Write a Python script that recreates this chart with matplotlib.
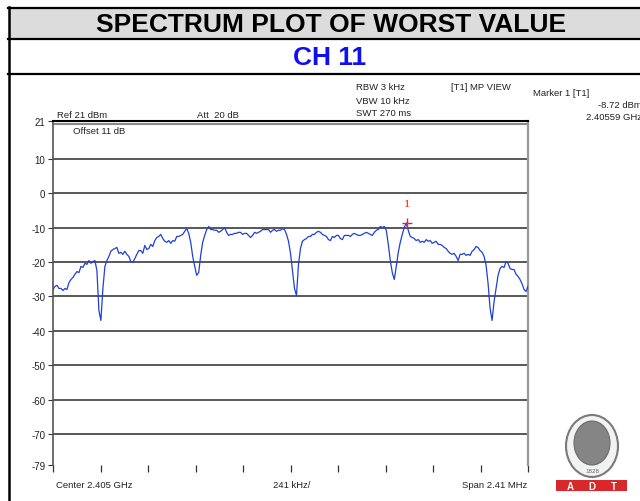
import numpy as np
import matplotlib
matplotlib.use("Agg")
import matplotlib.pyplot as plt
from matplotlib.patches import Rectangle, Ellipse
from matplotlib.lines import Line2D

plt.rcParams['font.family'] = ['Liberation Sans', 'DejaVu Sans']

# ---------------- data ----------------
title = "SPECTRUM PLOT OF WORST VALUE"
subtitle = "CH 11"
span_khz = 2410.0
ref_level = 21
bottom_level = -79
grid_levels = [10, 0, -10, -20, -30, -40, -50, -60, -70]
ytick_values = [21, 10, 0, -10, -20, -30, -40, -50, -60, -70, -79]
n_divisions = 10

levels_db = [
    -28.0, -27.1, -26.8, -27.7, -27.7, -28.3, -27.7, -28.0, -26.0, -25.1,
    -24.5, -23.6, -22.8, -23.1, -21.3, -21.6, -20.4, -20.7, -19.6, -20.4,
    -19.9, -19.6, -22.5, -34.1, -37.0, -27.7, -21.3, -19.6, -18.4, -16.9,
    -16.4, -16.1, -15.8, -17.5, -17.2, -17.8, -16.9, -17.8, -18.4, -19.9,
    -20.1, -19.0, -17.8, -16.7, -16.7, -17.5, -15.2, -16.4, -16.1, -14.9,
    -15.5, -13.8, -12.9, -12.6, -12.0, -13.2, -14.0, -14.3, -13.8, -14.6,
    -13.8, -14.0, -12.6, -12.6, -12.3, -12.0, -11.1, -10.3, -11.7, -14.3,
    -18.4, -21.3, -23.9, -23.1, -18.1, -14.3, -12.3, -10.6, -9.7, -10.6,
    -10.6, -10.8, -10.8, -11.4, -11.1, -10.6, -10.0, -11.4, -12.3, -12.0,
    -12.0, -11.7, -11.7, -11.4, -11.4, -12.0, -11.7, -11.7, -12.3, -12.9,
    -12.3, -11.4, -11.7, -11.4, -11.1, -10.6, -10.6, -10.6, -10.6, -11.4,
    -10.8, -10.6, -11.1, -10.8, -10.8, -10.3, -10.6, -12.0, -14.0, -17.5,
    -22.5, -27.7, -29.8, -20.7, -16.1, -14.0, -13.5, -13.2, -12.6, -12.6,
    -12.0, -12.0, -11.4, -11.1, -11.4, -12.0, -12.3, -12.6, -13.5, -13.8,
    -12.6, -12.9, -12.3, -12.3, -13.2, -13.5, -12.3, -12.3, -12.3, -12.6,
    -12.0, -11.7, -12.0, -12.3, -12.3, -12.0, -11.7, -11.4, -11.7, -12.0,
    -12.3, -11.4, -10.8, -10.6, -9.7, -10.0, -9.7, -10.8, -14.9, -19.6,
    -23.1, -25.1, -21.3, -17.2, -14.3, -12.0, -10.0, -8.72, -10.8, -12.6,
    -12.9, -13.2, -13.8, -13.5, -14.3, -14.0, -14.3, -13.5, -14.0, -13.8,
    -14.6, -14.3, -14.0, -14.9, -14.9, -15.2, -15.8, -16.1, -16.9, -17.5,
    -17.8, -17.5, -18.4, -19.6, -17.8, -17.8, -17.5, -18.1, -17.8, -18.1,
    -16.9, -16.4, -15.5, -15.8, -16.7, -17.2, -18.4, -21.0, -26.3, -33.5,
    -37.0, -31.5, -27.7, -23.9, -21.9, -21.3, -21.6, -19.9, -20.4, -21.9,
    -22.2, -22.2, -23.6, -24.2, -25.1, -26.3, -28.0, -28.6, -27.1,
]
marker_freq_khz = 590.0
marker_level = -8.72

freq_khz = np.linspace(-span_khz / 2, span_khz / 2, len(levels_db))

# ---------------- figure ----------------
W, H = 640, 502
fig = plt.figure(figsize=(W / 100, H / 100), dpi=100)


def fx(px):
    return px / W


def fy(py):
    return 1 - py / H


# header table
fig.add_artist(Rectangle((fx(9), fy(40)), fx(640) - fx(9), fy(8) - fy(40),
                         transform=fig.transFigure, facecolor='#dcdcdc',
                         edgecolor='none', zorder=0))
for py in (8.5, 40, 75):
    fig.add_artist(Line2D([fx(8), 1], [fy(py), fy(py)], transform=fig.transFigure,
                          color='black', lw=1.6))
fig.add_artist(Line2D([fx(9), fx(9)], [fy(8), 0], transform=fig.transFigure,
                      color='black', lw=1.8))

fig.text(fx(331), fy(25), title, ha='center', va='center', fontsize=19,
         fontweight='bold', color='black')
fig.text(fx(330), fy(58), subtitle, ha='center', va='center', fontsize=19,
         fontweight='bold', color='#1010ee')

# axes
left, right, top, bottom = 53, 528, 121.8, 466
ax = fig.add_axes([fx(left), fy(bottom), fx(right) - fx(left), fy(top) - fy(bottom)])
ax.set_xlim(-span_khz / 2, span_khz / 2)
ax.set_ylim(bottom_level, ref_level)

for g in grid_levels:
    ax.axhline(g, color='#3c3c3c', lw=1.2, zorder=1)
ax.axhline(ref_level - 1, color='#8a8a8a', lw=1.5, zorder=1)

ax.plot(freq_khz, levels_db, color='#1f40d8', lw=0.9, zorder=3)
ax.plot(marker_freq_khz, marker_level, marker='+', color='#ee2222', ms=7, mew=1.0, zorder=4)
ax.text(marker_freq_khz, marker_level + 5.7, '1', color='#ee2222', fontsize=7.5,
        ha='center', va='center', family='DejaVu Serif', zorder=4)

ax.spines['top'].set_color('black')
ax.spines['top'].set_linewidth(1.5)
ax.spines['left'].set_color('#555555')
ax.spines['left'].set_linewidth(1.2)
ax.spines['right'].set_color('#999999')
ax.spines['right'].set_linewidth(1.6)
ax.spines['bottom'].set_visible(False)

ax.set_yticks(ytick_values)
ax.set_yticklabels([str(v) for v in ytick_values])
ax.tick_params(axis='y', length=3.5, width=0.8, color='#333333', labelsize=7,
               labelcolor='#222222', pad=2)
xt = np.linspace(-span_khz / 2, span_khz / 2, n_divisions + 1)
ax.set_xticks(xt)
ax.set_xticklabels([])
ax.tick_params(axis='x', length=5, width=0.9, color='#333333', direction='out', pad=0)

# instrument annotations
small = dict(fontsize=6.8, color='#222222', va='center')
fig.text(fx(356), fy(88), "RBW 3 kHz", **small)
fig.text(fx(356), fy(101), "VBW 10 kHz", **small)
fig.text(fx(356), fy(113), "SWT 270 ms", **small)
fig.text(fx(451), fy(88), "[T1] MP VIEW", **small)
fig.text(fx(533), fy(94), "Marker 1 [T1]", **small)
fig.text(fx(598), fy(105), "-8.72 dBm", **small)
fig.text(fx(586), fy(117), "2.40559 GHz", **small)
fig.text(fx(57), fy(115), "Ref 21 dBm", **small)
fig.text(fx(197), fy(115), "Att  20 dB", **small)
fig.text(fx(73), fy(132), "Offset 11 dB", **small)
fig.text(fx(56), fy(486), "Center 2.405 GHz", **small)
fig.text(fx(292), fy(486), "241 kHz/", ha='center', fontsize=6.8, color='#222222', va='center')
fig.text(fx(527), fy(486), "Span 2.41 MHz", ha='right', fontsize=6.8, color='#222222', va='center')

# logo
logo_ax = fig.add_axes([fx(550), fy(495), fx(635) - fx(550), fy(412) - fy(495)])
logo_ax.set_xlim(550, 635)
logo_ax.set_ylim(495, 412)
logo_ax.axis('off')
logo_ax.add_patch(Ellipse((592, 447), 52, 62, facecolor='#f2f2f2', edgecolor='#7a7a7a', lw=1.5))
logo_ax.add_patch(Ellipse((592, 444), 36, 44, facecolor='#858585', edgecolor='#6a6a6a', lw=0.8))
logo_ax.text(592, 472, "1828", ha='center', va='center', fontsize=4.5, color='#666666')
logo_ax.add_patch(Rectangle((556, 481), 71, 11, facecolor='#d8282c', edgecolor='none'))
for xx, ch in zip((570, 592, 614), "ADT"):
    logo_ax.text(xx, 486.8, ch, ha='center', va='center', fontsize=7,
                 fontweight='bold', color='white')

fig.savefig("out.png", dpi=100)
